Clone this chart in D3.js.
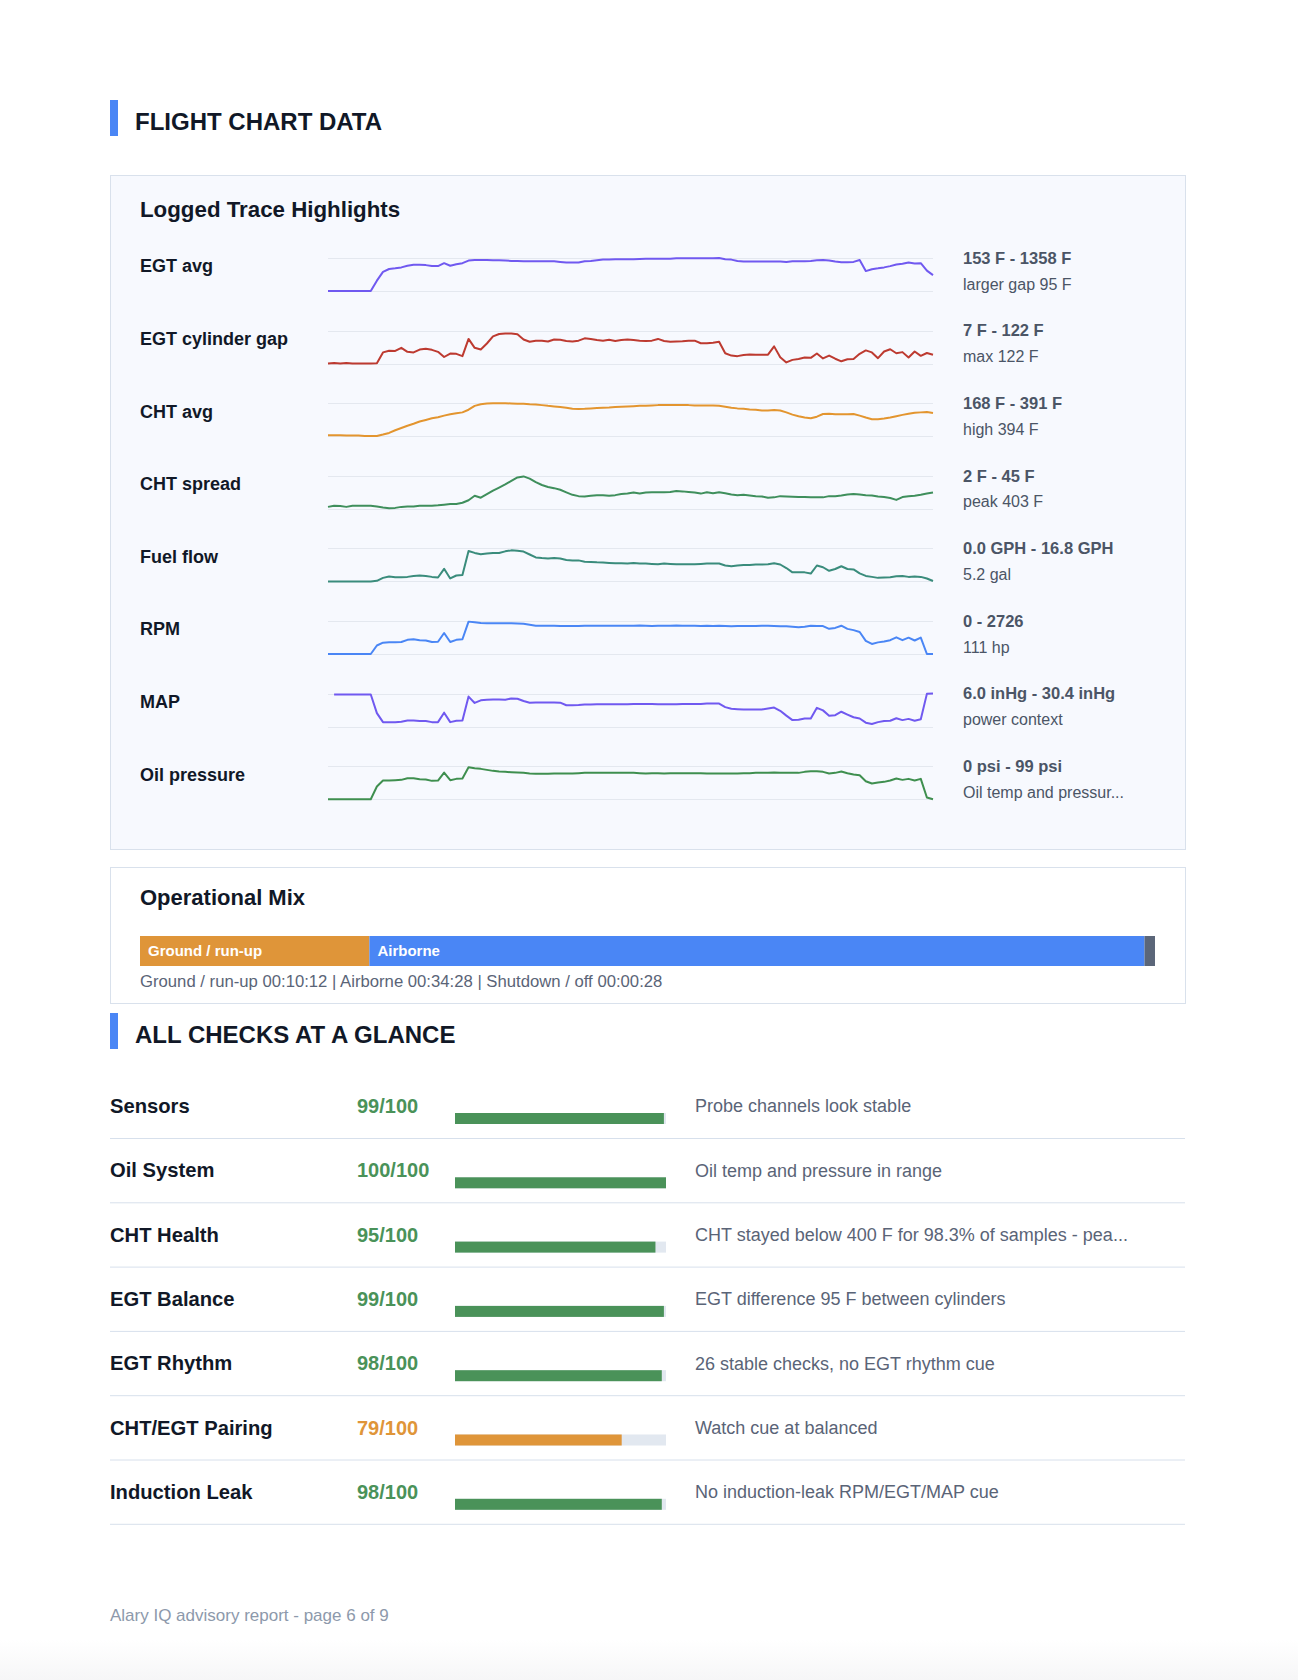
<!DOCTYPE html>
<html>
<head>
<meta charset="utf-8">
<script src="https://cdn.jsdelivr.net/npm/d3@7"></script>
<style>
  body { margin: 0; background: #fff; }
  svg { display: block; font-family: "Liberation Sans", Arial, Helvetica, sans-serif; }
</style>
</head>
<body>
<svg id="page" width="1298" height="1680"></svg>
<script>
// trace rows
const traceNames = ['EGT avg', 'EGT cylinder gap', 'CHT avg', 'CHT spread', 'Fuel flow', 'RPM', 'MAP', 'Oil pressure']
const traceRangeText = ['153 F - 1358 F', '7 F - 122 F', '168 F - 391 F', '2 F - 45 F', '0.0 GPH - 16.8 GPH', '0 - 2726', '6.0 inHg - 30.4 inHg', '0 psi - 99 psi']
const traceNoteText = ['larger gap 95 F', 'max 122 F', 'high 394 F', 'peak 403 F', '5.2 gal', '111 hp', 'power context', 'Oil temp and pressur...']
const traceMin = [153, 7, 168, 2, 0, 0, 6.0, 0]
const traceMax = [1358, 122, 391, 45, 16.8, 2726, 30.4, 99]
const traceColors = ['#7059f0', '#bd3a30', '#e3952f', '#3f8f5c', '#3a8c7c', '#4a86f5', '#7059f0', '#3f8f4f']

const egtAvg = [153,153,153,153,153,153,153,153,531,850, 956,980,1015,1074,1110,1110,1098,1062,1062,1169,
  1074,1133,1169,1263,1287,1287,1287,1275,1275,1263, 1251,1251,1240,1240,1240,1240,1240,1240,1216,1192,
  1192,1192,1240,1251,1275,1299,1299,1310,1310,1310, 1310,1322,1334,1334,1334,1334,1334,1346,1346,1346,
  1346,1346,1346,1346,1358,1310,1299,1251,1228,1228, 1228,1228,1228,1228,1228,1216,1240,1240,1240,1251,
  1275,1287,1263,1228,1204,1204,1216,1287,880,950, 980,1015,1062,1121,1145,1192,1157,1169,897,732]
const egtGap = [7,9,7,9,7,7,7,7,8,46, 52,51,62,48,46,56,59,55,48,30,
  42,41,33,93,62,56,77,102,110,112, 112,109,91,83,87,87,84,91,90,86,
  84,87,95,93,89,87,90,86,89,91, 89,87,86,87,93,86,83,84,85,87,
  87,78,78,80,83,43,35,33,37,39, 38,38,38,67,29,11,20,23,28,27,
  42,25,35,24,15,22,23,41,53,46, 26,49,57,43,47,28,49,34,44,38]
const chtAvg = [175,175,175,172,172,172,170,170,170,179, 190,208,223,239,252,267,278,289,296,307,
  316,323,329,347,373,384,389,391,391,391, 389,387,387,384,382,378,373,369,365,360,
  353,351,353,356,358,360,362,365,367,369, 371,373,373,376,378,378,378,378,378,378,
  376,376,376,376,373,367,360,356,353,349, 347,342,342,345,342,329,314,303,294,289,
  300,318,320,316,316,316,318,307,294,283, 283,287,294,303,312,320,327,329,331,325]
const chtSpread = [4.5,6.1,5.7,4.5,6.1,6.1,6.1,6.1,4.9,3.7, 2.8,3.2,4.5,4.9,4.9,6.1,6.1,6.1,6.5,7.4,
  8.2,8.2,9.9,13.2,19.0,16.5,21.0,25.6,29.7,33.8, 38.4,42.9,44.2,41.3,36.7,33.0,30.5,28.9,26.8,23.5,
  20.2,18.5,18.1,19.0,19.8,19.8,19.0,19.8,21.4,21.8, 23.1,21.8,23.1,23.5,23.5,23.5,23.9,25.2,24.7,23.9,
  23.1,21.8,23.5,22.3,23.5,22.3,20.6,19.8,20.2,19.4, 18.5,18.1,16.5,16.9,18.5,18.1,17.7,17.3,17.3,16.9,
  16.9,16.9,18.5,18.5,19.4,20.6,21.4,20.6,19.8,19.4, 18.1,17.3,16.1,13.6,17.3,18.5,19.0,20.2,21.8,23.1]
const fuelFlow = [0,0,0,0,0,0,0,0,0.3,1.8, 2.5,2.1,2.1,2.3,2.8,3.0,2.8,2.3,2.0,6.4,
  1.5,3.0,3.3,15.5,14.5,13.8,14.2,14.5,14.5,15.3, 15.8,15.6,15.2,13.7,12.2,11.9,11.7,11.9,11.7,10.9,
  10.7,10.7,10.0,9.9,9.7,9.6,9.4,9.2,9.2,9.1, 9.4,9.1,9.1,8.9,8.7,9.1,8.9,8.7,8.7,8.7,
  8.7,8.9,9.1,9.1,9.1,8.1,7.7,8.1,8.4,8.4, 8.6,8.6,8.7,9.2,8.6,6.8,4.6,4.6,4.6,4.0,
  8.1,7.2,5.4,6.3,7.7,6.3,6.1,4.1,2.8,2.3, 1.8,2.0,2.1,2.6,2.8,2.3,2.5,2.3,1.5,0.2]
const rpm = [0,0,0,0,0,0,0,0,700,935, 961,961,986,1168,1220,1142,1116,986,1012,1739,
  986,1168,1220,2674,2622,2570,2544,2544,2544,2544, 2544,2518,2492,2414,2336,2336,2336,2336,2310,2310,
  2310,2310,2336,2336,2336,2336,2336,2336,2336,2336, 2336,2362,2336,2310,2336,2336,2336,2362,2336,2336,
  2336,2310,2336,2310,2336,2310,2284,2310,2310,2310, 2310,2336,2336,2310,2284,2284,2258,2207,2258,2336,
  2310,2310,2077,2155,2336,2077,1973,1817,1090,831, 961,1038,1142,1376,1142,1350,1116,1350,0,0]
const map = [null,29.7,29.7,29.7,29.7,29.7,29.7,29.7,16.0,9.3, 9.3,9.3,9.6,10.5,10.5,10.1,10.1,9.3,9.3,16.3,
  9.3,10.3,10.5,28.2,23.5,25.4,25.9,26.1,26.1,25.9, 26.8,26.6,24.9,23.7,23.9,23.9,23.9,23.9,23.7,21.8,
  21.8,22.0,22.3,22.3,22.5,22.5,22.5,22.5,22.5,22.5, 22.7,22.7,22.7,22.7,22.5,22.5,22.5,22.5,22.7,22.7,
  22.7,22.7,23.0,23.0,23.0,20.4,19.2,18.9,18.7,18.7, 18.7,18.7,19.4,20.1,17.7,14.1,10.8,11.0,12.0,12.0,
  19.9,18.0,14.1,14.4,17.0,14.9,12.9,12.0,8.9,7.9, 9.3,10.1,10.3,12.2,10.8,11.7,10.3,11.5,30.2,30.4]
const oilPressure = [0,0,0,0,0,0,0,0,38,56, 56,57,58,63,63,60,59,55,56,80,
  57,61,62,96,93,91,88,85,83,82, 81,80,79,77,76,76,76,77,77,77,
  77,78,79,79,79,79,79,79,79,79, 79,78,77,78,78,77,78,78,78,78,
  78,78,77,77,77,77,77,77,78,78, 79,79,79,80,79,79,79,79,82,84,
  84,82,77,79,83,78,74,72,54,47, 50,52,56,62,58,61,56,61,5,0]
const traceValues = [egtAvg, egtGap, chtAvg, chtSpread, fuelFlow, rpm, map, oilPressure]

// operational mix
const phaseNames = ['Ground / run-up', 'Airborne', 'Shutdown / off']
const phaseSeconds = [612, 2068, 28]
const phaseTimes = ['00:10:12', '00:34:28', '00:00:28']
const phaseColors = ['#df9539', '#4a86f5', '#5b6679']

// checks
const checkNames = ['Sensors', 'Oil System', 'CHT Health', 'EGT Balance', 'EGT Rhythm', 'CHT/EGT Pairing', 'Induction Leak']
const checkScores = [99, 100, 95, 99, 98, 79, 98]
const checkNotes = ['Probe channels look stable', 'Oil temp and pressure in range',
  'CHT stayed below 400 F for 98.3% of samples - pea...', 'EGT difference 95 F between cylinders',
  '26 stable checks, no EGT rhythm cue', 'Watch cue at balanced', 'No induction-leak RPM/EGT/MAP cue']

const ink = '#111827'
const slate = '#4b5566'
const muted = '#5a6477'

const svg = d3.select('#page')

// faint page bottom
const grad = svg.append('defs').append('linearGradient')
  .attr('id', 'pagefoot').attr('x1', 0).attr('y1', 0).attr('x2', 0).attr('y2', 1)
grad.append('stop').attr('offset', 0).attr('stop-color', '#ffffff')
grad.append('stop').attr('offset', 1).attr('stop-color', '#f6f6f7')
svg.append('rect').attr('x', 0).attr('y', 1640).attr('width', 1298).attr('height', 40).attr('fill', 'url(#pagefoot)')

function sectionTitle (y, text) {
  svg.append('rect').attr('x', 110).attr('y', y).attr('width', 8).attr('height', 36).attr('fill', '#4a86f5')
  svg.append('text').attr('x', 135).attr('y', y + 22).attr('dy', '0.35em')
    .attr('font-size', 24).attr('font-weight', 700).attr('fill', ink).text(text)
}

sectionTitle(100, 'FLIGHT CHART DATA')

// ---- trace panel
svg.append('rect').attr('x', 110.5).attr('y', 175.5).attr('width', 1075).attr('height', 674)
  .attr('fill', '#f7f9fe').attr('stroke', '#d9e1ec')
svg.append('text').attr('x', 140).attr('y', 209).attr('dy', '0.35em')
  .attr('font-size', 22.3).attr('font-weight', 700).attr('fill', ink).text('Logged Trace Highlights')

const rowStep = 72.6
const x = d3.scaleLinear().domain([0, egtAvg.length - 1]).range([328, 933])

traceNames.forEach(function (name, i) {
  const top = 258 + rowStep * i
  const bottom = top + 33
  const g = svg.append('g')
  g.append('text').attr('x', 140).attr('y', top + 8).attr('dy', '0.35em')
    .attr('font-size', 18).attr('font-weight', 700).attr('fill', ink).text(name)

  const y = d3.scaleLinear().domain([traceMin[i], traceMax[i]]).range([bottom, top])
  g.selectAll('line.grid').data(y.domain()).join('line')
    .attr('class', 'grid')
    .attr('x1', 328).attr('x2', 933)
    .attr('y1', d => Math.round(y(d)) + 0.5).attr('y2', d => Math.round(y(d)) + 0.5)
    .attr('stroke', '#e4e8ef').attr('stroke-width', 1)

  const line = d3.line()
    .defined(d => d != null)
    .x((d, j) => x(j))
    .y(d => y(d))
  g.append('path').datum(traceValues[i])
    .attr('d', line)
    .attr('fill', 'none').attr('stroke', traceColors[i]).attr('stroke-width', 2)
    .attr('stroke-linejoin', 'round')

  g.append('text').attr('x', 963).attr('y', top).attr('dy', '0.35em')
    .attr('font-size', 16.5).attr('font-weight', 700).attr('fill', slate).text(traceRangeText[i])
  g.append('text').attr('x', 963).attr('y', top + 26).attr('dy', '0.35em')
    .attr('font-size', 16).attr('fill', slate).text(traceNoteText[i])
})

// ---- operational mix
svg.append('rect').attr('x', 110.5).attr('y', 867.5).attr('width', 1075).attr('height', 136)
  .attr('fill', '#ffffff').attr('stroke', '#d9e1ec')
svg.append('text').attr('x', 140).attr('y', 897).attr('dy', '0.35em')
  .attr('font-size', 22).attr('font-weight', 700).attr('fill', ink).text('Operational Mix')

const total = d3.sum(phaseSeconds)
const xm = d3.scaleLinear().domain([0, total]).range([140, 1155])
const starts = d3.cumsum([0].concat(phaseSeconds.slice(0, -1)))
const mix = svg.append('g')
mix.selectAll('rect').data(phaseSeconds).join('rect')
  .attr('x', (d, i) => xm(starts[i]))
  .attr('width', (d, i) => xm(starts[i] + d) - xm(starts[i]))
  .attr('y', 936).attr('height', 30)
  .attr('fill', (d, i) => phaseColors[i])
mix.selectAll('text').data(phaseSeconds.filter(d => d / total > 0.05)).join('text')
  .attr('x', (d, i) => xm(starts[i]) + 8)
  .attr('y', 951).attr('dy', '0.35em')
  .attr('font-size', 15).attr('font-weight', 700).attr('fill', '#ffffff')
  .text((d, i) => phaseNames[i])

svg.append('text').attr('x', 140).attr('y', 981).attr('dy', '0.35em')
  .attr('font-size', 16.7).attr('fill', muted)
  .text(phaseNames.map((n, i) => n + ' ' + phaseTimes[i]).join(' | '))

// ---- checks
sectionTitle(1013, 'ALL CHECKS AT A GLANCE')

const checkStep = 64.3
const barW = d3.scaleLinear().domain([0, 100]).range([0, 211])
const rows = svg.selectAll('g.check').data(checkNames).join('g')
  .attr('class', 'check')
  .attr('transform', (d, i) => 'translate(0,' + (1106 + checkStep * i) + ')')

rows.append('text').attr('x', 110).attr('dy', '0.35em')
  .attr('font-size', 20.2).attr('font-weight', 700).attr('fill', ink).text(d => d)
rows.append('text').attr('x', 357).attr('dy', '0.35em')
  .attr('font-size', 20).attr('font-weight', 700)
  .attr('fill', (d, i) => checkScores[i] >= 90 ? '#4a9259' : '#df9539')
  .text((d, i) => checkScores[i] + '/100')
rows.append('rect').attr('x', 455).attr('y', 7).attr('height', 11)
  .attr('width', barW(100)).attr('fill', '#e2e8f0')
rows.append('rect').attr('x', 455).attr('y', 7).attr('height', 11)
  .attr('width', (d, i) => barW(checkScores[i]))
  .attr('fill', (d, i) => checkScores[i] >= 90 ? '#4a9259' : '#df9539')
rows.append('text').attr('x', 695).attr('dy', '0.35em')
  .attr('font-size', 18).attr('fill', muted).text((d, i) => checkNotes[i])
rows.append('line').attr('x1', 110).attr('x2', 1185)
  .attr('y1', 32.5).attr('y2', 32.5).attr('stroke', '#d7e0ec')

// footer
svg.append('text').attr('x', 110).attr('y', 1615).attr('dy', '0.35em')
  .attr('font-size', 17).attr('fill', '#8d99ab').text('Alary IQ advisory report - page 6 of 9')
</script>
</body>
</html>
